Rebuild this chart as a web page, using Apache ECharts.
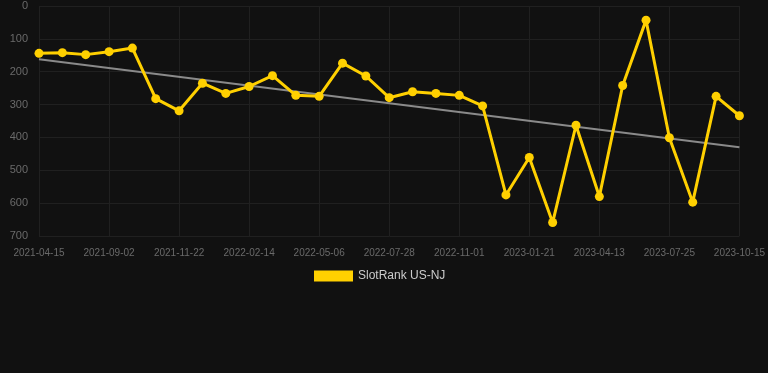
<!DOCTYPE html>
<html>
<head>
<meta charset="utf-8">
<script src="https://cdn.jsdelivr.net/npm/echarts@6/dist/echarts.min.js"></script>
<style>
html,body{margin:0;padding:0;background:#111111;}
#c{width:768px;height:373px;}
</style>
</head>
<body>
<div id="c"></div>
<script>
const categories = [
  '2021-04-15','2021-05-20','2021-07-01','2021-09-02','2021-09-30','2021-10-26',
  '2021-11-22','2021-12-20','2022-01-17','2022-02-14','2022-03-14','2022-04-10',
  '2022-05-06','2022-06-02','2022-06-30','2022-07-28','2022-08-30','2022-09-29',
  '2022-11-01','2022-11-28','2022-12-25','2023-01-21','2023-02-17','2023-03-16',
  '2023-04-13','2023-05-17','2023-06-20','2023-07-25','2023-08-20','2023-09-17',
  '2023-10-15'
];
const rankValues = [
  144,142,148,139,128,282,319,235,266,245,212,272,275,174,213,279,
  261,266,272,304,575,461,659,363,580,242,43,401,597,275,334
];
const trendEnds = [162, 430];
const yTicks = [0,100,200,300,400,500,600,700];
const seriesName = 'SlotRank US-NJ';

const trendData = categories.map((c, i) =>
  i === 0 ? trendEnds[0] : (i === categories.length - 1 ? trendEnds[1] : null));

const chart = echarts.init(document.getElementById('c'));
chart.setOption({
  backgroundColor: '#111111',
  animation: false,
  grid: { left: 39, right: 28, top: 6, bottom: 137, containLabel: false },
  legend: {
    data: [seriesName],
    top: 265,
    left: 309,
    icon: 'rect',
    itemWidth: 39,
    itemHeight: 11,
    itemGap: 10,
    textStyle: { color: '#cccccc', fontSize: 12, fontFamily: 'Liberation Sans, Arial, sans-serif' }
  },
  xAxis: {
    type: 'category',
    data: categories,
    boundaryGap: false,
    axisLine: { show: false },
    axisTick: { show: false },
    axisLabel: {
      interval: 2, color: '#6a6a6a', fontSize: 10, margin: 12,
      fontFamily: 'Liberation Sans, Arial, sans-serif'
    },
    splitLine: { show: true, interval: 2, lineStyle: { color: '#202020', width: 1 } }
  },
  yAxis: {
    type: 'value',
    inverse: true,
    min: yTicks[0],
    max: yTicks[yTicks.length - 1],
    interval: 100,
    axisLine: { show: false },
    axisTick: { show: false },
    axisLabel: { color: '#6a6a6a', fontSize: 11, margin: 11, fontFamily: 'Liberation Sans, Arial, sans-serif' },
    splitLine: { show: true, lineStyle: { color: '#202020', width: 1 } }
  },
  series: [
    {
      name: 'trend',
      type: 'line',
      data: trendData,
      connectNulls: true,
      showSymbol: false,
      symbol: 'none',
      lineStyle: { color: '#8a8a8a', width: 2 },
      z: 1,
      silent: true
    },
    {
      name: seriesName,
      type: 'line',
      data: rankValues,
      symbol: 'circle',
      symbolSize: 9,
      itemStyle: { color: '#ffd000' },
      lineStyle: { color: '#ffd000', width: 3 },
      z: 3
    }
  ]
});
</script>
</body>
</html>
